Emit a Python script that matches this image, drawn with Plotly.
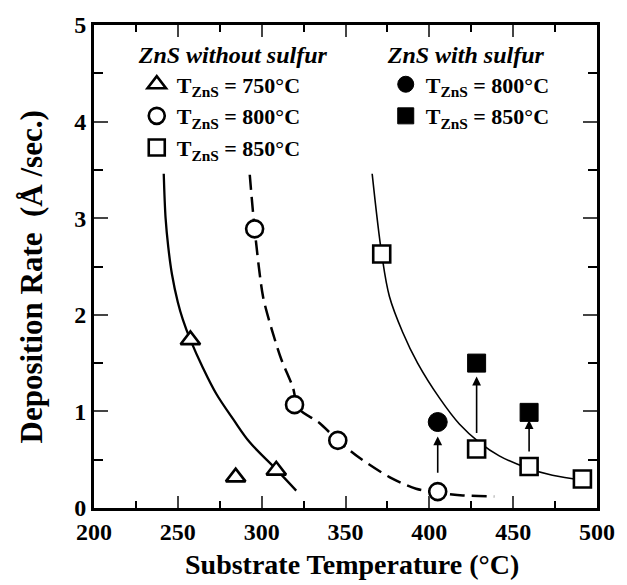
import plotly.graph_objects as go

# ---- data ----
t750_x = [257.5, 284.5, 308.7]
t750_y = [1.74, 0.32, 0.39]
t800_x = [295.8, 319.6, 345.4, 405]
t800_y = [2.89, 1.07, 0.70, 0.17]
t850_x = [371.6, 428.2, 459.5, 491.3]
t850_y = [2.63, 0.61, 0.43, 0.30]
s800_x = [405]
s800_y = [0.89]
s850_x = [428.2, 459.5]
s850_y = [1.50, 0.99]

# fitted curves
c750_x = [241.6, 242.7, 244.3, 246.5, 250, 253, 257.5, 265, 273, 283, 292.9, 308.7, 320.6]
c750_y = [3.46, 3.00, 2.70, 2.42, 2.13, 1.95, 1.74, 1.45, 1.18, 0.92, 0.68, 0.40, 0.18]
c800_x = [292.9, 295.8, 300.8, 306, 311.7, 318.6, 322, 334.5, 345.4, 358.3, 376.2, 392.1, 405, 420, 438.7]
c800_y = [3.45, 2.89, 2.19, 1.85, 1.54, 1.25, 1.03, 0.88, 0.70, 0.52, 0.32, 0.20, 0.16, 0.13, 0.12]
c850_x = [365.9, 371.6, 376.2, 384.1, 393, 406, 417.9, 429.8, 441.7, 457.5, 473.4, 491.3]
c850_y = [3.46, 2.63, 2.19, 1.82, 1.50, 1.14, 0.87, 0.68, 0.54, 0.42, 0.34, 0.29]

# arrows (x, tail y, head y)
arrow_x = [405, 428.2, 459.5]
arrow_y0 = [0.35, 0.76, 0.57]
arrow_y1 = [0.74, 1.36, 0.91]

labels = ["T<sub>ZnS</sub> = 750°C", "T<sub>ZnS</sub> = 800°C", "T<sub>ZnS</sub> = 850°C"]
x_title = "Substrate Temperature (°C)"
y_title = "Deposition Rate  (Å /sec.)"

FONT = "Liberation Serif"
fig = go.Figure()

fig.add_trace(go.Scatter(x=c750_x, y=c750_y, mode="lines", line=dict(color="black", width=2.3, shape="spline", smoothing=1.0), showlegend=False))
fig.add_trace(go.Scatter(x=c800_x, y=c800_y, mode="lines", line=dict(color="black", width=2.5, shape="spline", smoothing=0.8, dash="15px,7px"), showlegend=False))
fig.add_trace(go.Scatter(x=c850_x, y=c850_y, mode="lines", line=dict(color="black", width=1.6, shape="spline", smoothing=1.0), showlegend=False))

mk = dict(color="white", size=17, line=dict(color="black", width=2.6))
fig.add_trace(go.Scatter(x=t750_x, y=t750_y, mode="markers", name=labels[0], legend="legend",
                         marker=dict(mk, symbol="triangle-up")))
fig.add_trace(go.Scatter(x=t800_x, y=t800_y, mode="markers", name=labels[1], legend="legend",
                         marker=dict(mk, symbol="circle")))
fig.add_trace(go.Scatter(x=t850_x, y=t850_y, mode="markers", name=labels[2], legend="legend",
                         marker=dict(mk, symbol="square")))
fig.add_trace(go.Scatter(x=s800_x, y=s800_y, mode="markers", name=labels[1], legend="legend2",
                         marker=dict(color="black", size=19, symbol="circle", line=dict(color="black", width=1))))
fig.add_trace(go.Scatter(x=s850_x, y=s850_y, mode="markers", name=labels[2], legend="legend2",
                         marker=dict(color="black", size=18, symbol="square", line=dict(color="black", width=1))))

for x, y0, y1 in zip(arrow_x, arrow_y0, arrow_y1):
    fig.add_annotation(x=x, y=y1, ax=x, ay=y0, xref="x", yref="y", axref="x", ayref="y",
                       text="", showarrow=True, arrowhead=2, arrowsize=1.1, arrowwidth=1.6,
                       arrowcolor="black", standoff=0, startstandoff=0)

# axis titles
fig.add_annotation(text=x_title, xref="paper", yref="paper", x=0.512, y=-0.118,
                   xanchor="center", yanchor="middle", showarrow=False,
                   font=dict(family=FONT, size=28, color="black", weight="bold"))
fig.add_annotation(text=y_title, xref="paper", yref="paper", x=-0.125, y=0.4776,
                   xanchor="center", yanchor="middle", showarrow=False, textangle=-90,
                   font=dict(family=FONT, size=31, color="black", weight="bold"))

legfont = dict(family=FONT, size=22, color="black", weight="bold")
titlefont = dict(family=FONT, size=24, color="black", weight="bold", style="italic")
fig.update_layout(
    width=627, height=585,
    margin=dict(l=94, r=29, t=18, b=77),
    plot_bgcolor="white", paper_bgcolor="white",
    font=dict(family=FONT, color="black"),
    legend=dict(x=0.085, y=0.985, xanchor="left", yanchor="top", bgcolor="rgba(0,0,0,0)",
                title=dict(text="ZnS without sulfur", font=titlefont), font=legfont,
                itemsizing="trace", tracegroupgap=0),
    legend2=dict(x=0.58, y=0.985, xanchor="left", yanchor="top", bgcolor="rgba(0,0,0,0)",
                 title=dict(text="ZnS with sulfur", font=titlefont), font=legfont,
                 itemsizing="trace", tracegroupgap=0),
)

axfont = dict(family=FONT, size=24, color="black", weight="bold")
fig.update_xaxes(range=[200, 500], dtick=50, tick0=200, ticks="inside", ticklen=12, tickwidth=2,
                 showline=True, linewidth=3, linecolor="black", mirror="allticks", showgrid=False,
                 zeroline=False, tickfont=axfont,
                 minor=dict(dtick=25, ticks="inside", ticklen=7, tickwidth=2, tickcolor="black"))
fig.update_yaxes(range=[0, 5], dtick=1, tick0=0, ticks="inside", ticklen=14, tickwidth=2,
                 showline=True, linewidth=3, linecolor="black", mirror="allticks", showgrid=False,
                 zeroline=False, tickfont=axfont,
                 minor=dict(dtick=0.5, ticks="inside", ticklen=9, tickwidth=2, tickcolor="black"))

fig.write_html("out.html")
